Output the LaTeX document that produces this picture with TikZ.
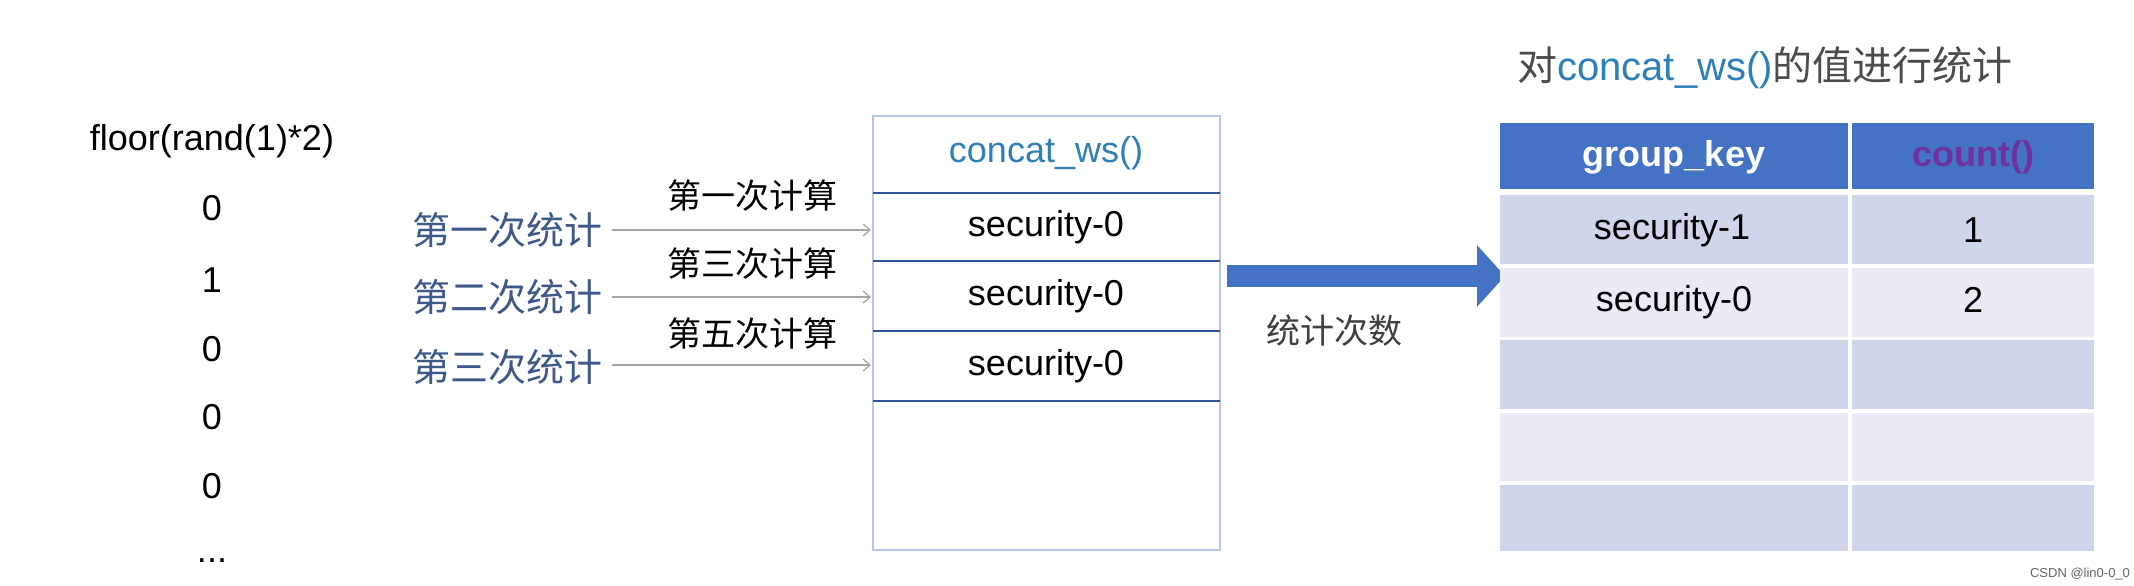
\documentclass[tikz,border=0pt]{standalone}
\usepackage{fontspec}
\setmainfont{Liberation Sans}
\newfontfamily\cjk{Noto Sans CJK SC}
\usetikzlibrary{arrows.meta}
\definecolor{labblue}{HTML}{3F5A8A}
\definecolor{teal}{HTML}{2E80B8}
\definecolor{hdr}{HTML}{4472C4}
\definecolor{rowA}{HTML}{CFD5EA}
\definecolor{rowB}{HTML}{E9EBF5}
\definecolor{purp}{HTML}{7030A0}
\definecolor{boxline}{HTML}{B4C7E7}
\definecolor{rowline}{HTML}{2F5597}
\begin{document}
\begin{tikzpicture}[x=1pt,y=-1pt,
  txt/.style={inner sep=0pt,font=\fontsize{36}{40}\selectfont},
  cn/.style={inner sep=0pt,font=\cjk\fontsize{34}{40}\selectfont},
  cnb/.style={inner sep=0pt,text=labblue,font=\cjk\fontsize{38}{44}\selectfont},
  thin/.style={draw=gray!70,line width=1.2pt,-{Straight Barb[length=7pt,width=12pt]}},
  cellA/.style={fill=rowA},cellB/.style={fill=rowB}]
\useasboundingbox[fill=white] (0,0) rectangle (2134,586);
% left column
\node[txt] (fl) at (212,141) {floor(rand(1)*2)};
\foreach \v/\y [count=\i] in {0/208,1/280,0/349,0/417,0/486}
  \node[txt] (d\i) at (212,\y) {\v};
\node[txt] (d6) at (212,561) {...};
% box
\draw[boxline,line width=1.5pt] (873,116) rectangle (1220,550);
\node[txt,text=teal] (hd) at (1046,153) {concat\_ws()};
\foreach \y in {193,261,331,401} \draw[rowline,line width=2pt] (873,\y) -- (1220,\y);
\foreach \y [count=\i] in {227,296,366}
  \node[txt] (s\i) at (1046,\y) {security-0};
\foreach \t/\y [count=\i] in {一/230,二/297,三/367}
  \node[cnb] (l\i) at (507,\y) {第\t 次统计};
\foreach \t/\y [count=\i] in {一/196,三/264,五/334}
  \node[cn] (u\i) at (752,\y) {第\t 次计算};
\foreach \y [count=\i] in {230,297,365} {
  \coordinate (a\i) at (612,\y); \coordinate (b\i) at (871,\y);
  \draw[thin] (a\i) -- (b\i);}
% big arrow
\coordinate (A0) at (1227,276); \coordinate (A1) at (1505,276);
\draw[hdr,line width=22pt,-{Triangle[length=28pt,width=60pt]}] (A0) -- (A1);
\node[cn,text=black!75] (cnt) at (1334,331) {统计次数};
% title
\node[inner sep=0pt,font=\fontsize{40}{44}\selectfont] (ti) at (1765,68)
  {{\cjk\color{black!70}对}{\color{teal}concat\_ws()}{\cjk\color{black!70}的值进行统计}};
% table
\fill[hdr] (1500,123) rectangle (1848,189);
\fill[hdr] (1852,123) rectangle (2094,189);
\node[txt,font=\bfseries\fontsize{36}{40}\selectfont,text=white] (gk) at (1674,157) {group\_key};
\node[txt,font=\bfseries\fontsize{36}{40}\selectfont,text=purp] (cc) at (1973,157) {count()};
\foreach \ya/\yb/\s [count=\i] in {195/264/cellA,268/337/cellB,340/409/cellA,413/481/cellB,485/551/cellA}{
  \path[\s] (1500,\ya) rectangle (1848,\yb);
  \path[\s] (1852,\ya) rectangle (2094,\yb);}
\node[txt] (k1) at (1672,230) {security-1};
\node[txt] (k2) at (1674,302) {security-0};
\node[txt] (v1) at (1973,230) {1};
\node[txt] (v2) at (1973,300) {2};
\node[inner sep=0pt,text=black!60,font=\fontsize{13}{14}\selectfont] (wm) at (2080,574) {CSDN @lin0-0\_0};
\end{tikzpicture}
\end{document}
